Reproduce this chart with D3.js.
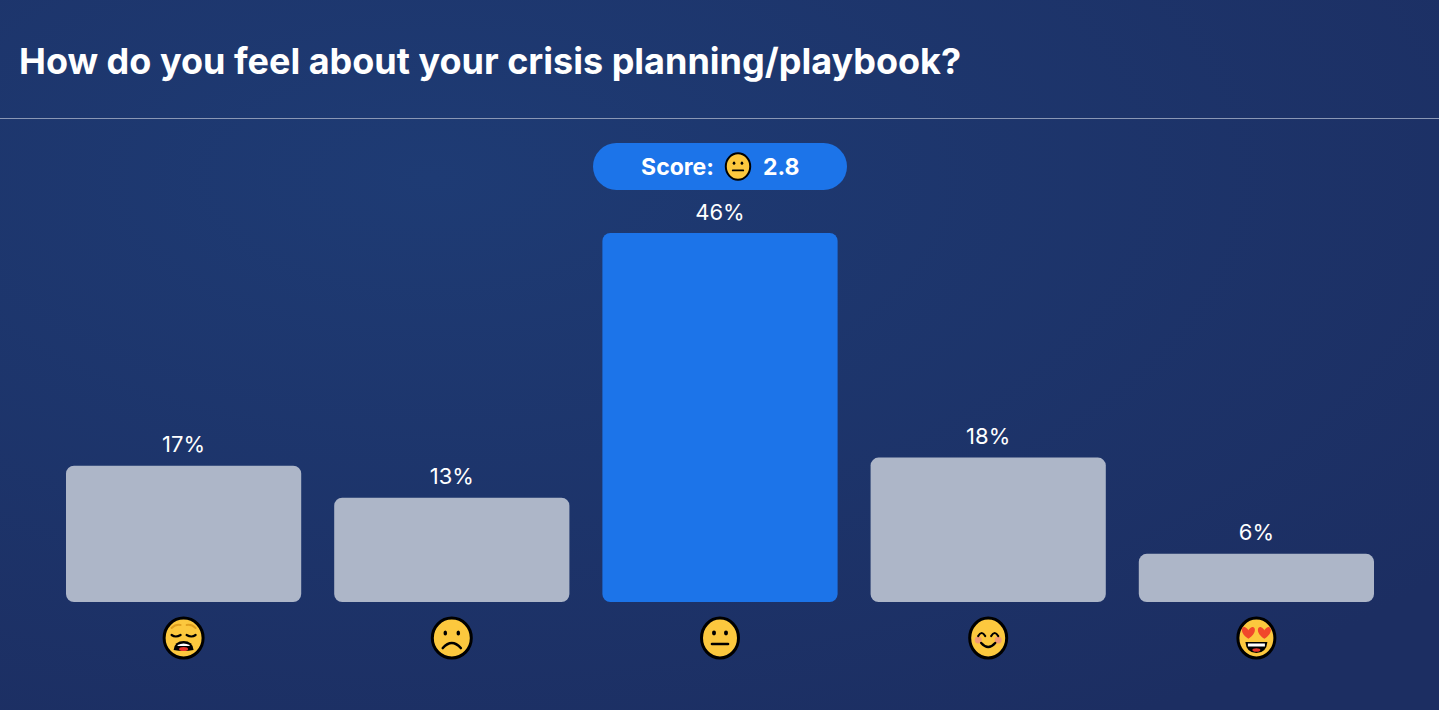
<!DOCTYPE html>
<html lang="en">
<head>
    <meta charset="UTF-8">
    <title>Crisis planning</title>
    <style>
        html, body {
            margin: 0;
            padding: 0;
            overflow: hidden;
        }
        svg {
            display: block;
            font-family: Inter, "Noto Sans", sans-serif;
        }
    </style>
</head>
<body>
    <svg width="1439" height="710" id="chart"></svg>

    <script src="https://d3js.org/d3.v7.min.js"></script>
    <script>
        // data
        const question = "How do you feel about your crisis planning/playbook?";
        const answerEmojis = ["😩", "☹️", "😐", "😊", "😍"];
        const answerKinds = ["weary", "frowning", "neutral", "smiling", "heartEyes"];
        const answerShares = [17, 13, 46, 18, 6];
        const scoreValue = 2.8;
        const scoreKind = "neutral";

        const width = 1439, height = 710;
        const svg = d3.select("#chart");

        // background gradient
        const defs = svg.append("defs");
        const grad = defs.append("radialGradient")
            .attr("id", "bg")
            .attr("cx", "30%").attr("cy", "25%").attr("r", "90%");
        grad.append("stop").attr("offset", "0%").attr("stop-color", "#1e3b74");
        grad.append("stop").attr("offset", "100%").attr("stop-color", "#1c2e62");
        svg.append("rect")
            .attr("width", width).attr("height", height)
            .attr("fill", "url(#bg)");

        // title + rule
        svg.append("text")
            .attr("x", 19).attr("y", 74)
            .attr("fill", "#ffffff")
            .attr("font-size", 36)
            .attr("font-weight", 700)
            .text(question);
        svg.append("line")
            .attr("x1", 0).attr("x2", width)
            .attr("y1", 118.5).attr("y2", 118.5)
            .attr("stroke", "#8a97b5")
            .attr("stroke-width", 1);

        // scales
        const idx = d3.range(answerShares.length);
        const x = d3.scaleBand()
            .domain(idx)
            .range([66, 1374])
            .paddingInner(0.123)
            .paddingOuter(0);
        const y = d3.scaleLinear()
            .domain([0, 46])
            .range([602, 233]);

        const maxIdx = d3.maxIndex(answerShares);

        // bars
        svg.selectAll("rect.bar")
            .data(idx)
            .enter()
            .append("rect")
            .attr("class", "bar")
            .attr("x", i => x(i))
            .attr("y", i => y(answerShares[i]))
            .attr("width", x.bandwidth())
            .attr("height", i => y(0) - y(answerShares[i]))
            .attr("rx", 8)
            .attr("fill", i => i === maxIdx ? "#1c74e9" : "#adb6c8");

        // value labels
        svg.selectAll("text.val")
            .data(idx)
            .enter()
            .append("text")
            .attr("class", "val")
            .attr("x", i => x(i) + x.bandwidth() / 2)
            .attr("y", i => y(answerShares[i]) - 13.5)
            .attr("text-anchor", "middle")
            .attr("fill", "#ffffff")
            .attr("font-size", 22)
            .text(i => answerShares[i] + "%");

        // emoji drawn as shapes (no emoji font available)
        function heartPath(cx, cy, s) {
            return `M${cx},${cy + s * 0.9}
                C${cx - s * 1.4},${cy} ${cx - s * 1.1},${cy - s * 1.1} ${cx - s * 0.5},${cy - s * 0.9}
                C${cx - s * 0.2},${cy - s * 0.8} ${cx},${cy - s * 0.5} ${cx},${cy - s * 0.4}
                C${cx},${cy - s * 0.5} ${cx + s * 0.2},${cy - s * 0.8} ${cx + s * 0.5},${cy - s * 0.9}
                C${cx + s * 1.1},${cy - s * 1.1} ${cx + s * 1.4},${cy} ${cx},${cy + s * 0.9}Z`;
        }

        function drawEmoji(g, kind, char) {
            g.append("title").text(char);
            const round = kind === "weary" || kind === "frowning";
            g.append("ellipse")
                .attr("rx", round ? 19.5 : 18.5)
                .attr("ry", 20)
                .attr("fill", "#fcc83e")
                .attr("stroke", "#000")
                .attr("stroke-width", 3);
            const line = (d, w, col) => g.append("path").attr("d", d)
                .attr("fill", "none").attr("stroke", col || "#000")
                .attr("stroke-width", w).attr("stroke-linecap", "round");

            if (kind === "weary") {
                line("M-12,-10 Q-8,-14 -3,-13", 2, "#e0a020");
                line("M12,-10 Q8,-14 3,-13", 2, "#e0a020");
                line("M-12,-3 Q-8,0 -3,-3", 2.2);
                line("M12,-3 Q8,0 3,-3", 2.2);
                g.append("path")
                    .attr("d", "M-10,12 Q-9,3 0,3 Q9,3 10,12 Q0,14 -10,12Z")
                    .attr("fill", "#000");
                g.append("path")
                    .attr("d", "M-6,7 Q0,4 6,7 L6,8 L-6,8Z")
                    .attr("fill", "#fff");
                g.append("ellipse")
                    .attr("cx", 0).attr("cy", 11).attr("rx", 4.5).attr("ry", 2)
                    .attr("fill", "#e8322a");
            } else if (kind === "frowning") {
                g.append("ellipse").attr("cx", -6.5).attr("cy", -5).attr("rx", 1.8).attr("ry", 2.6).attr("fill", "#000");
                g.append("ellipse").attr("cx", 6.5).attr("cy", -5).attr("rx", 1.8).attr("ry", 2.6).attr("fill", "#000");
                line("M-9,10 Q0,0 9,10", 2.6);
            } else if (kind === "neutral") {
                g.append("ellipse").attr("cx", -6).attr("cy", -5).attr("rx", 2).attr("ry", 2.4).attr("fill", "#000");
                g.append("ellipse").attr("cx", 6).attr("cy", -5).attr("rx", 2).attr("ry", 2.4).attr("fill", "#000");
                line("M-8,6 L8,6", 2.6);
            } else if (kind === "smiling") {
                g.append("circle").attr("cx", -10).attr("cy", 2).attr("r", 3.5).attr("fill", "#f29a73");
                g.append("circle").attr("cx", 10).attr("cy", 2).attr("r", 3.5).attr("fill", "#f29a73");
                line("M-10,-2 Q-6.5,-8 -3,-2", 2.2);
                line("M10,-2 Q6.5,-8 3,-2", 2.2);
                line("M-7,5 Q0,13 7,5", 2.4);
            } else if (kind === "heartEyes") {
                g.append("path").attr("d", heartPath(-8, -5, 6.5)).attr("fill", "#f1472b");
                g.append("path").attr("d", heartPath(8, -5, 6.5)).attr("fill", "#f1472b");
                g.append("path")
                    .attr("d", "M-11,4 L11,4 Q10,15 0,15 Q-10,15 -11,4Z")
                    .attr("fill", "#000");
                g.append("rect").attr("x", -8.5).attr("y", 5.5).attr("width", 17).attr("height", 3)
                    .attr("fill", "#fff");
                g.append("ellipse").attr("cx", 0).attr("cy", 12).attr("rx", 4).attr("ry", 1.8)
                    .attr("fill", "#e8322a");
            }
        }

        idx.forEach(i => {
            const g = svg.append("g")
                .attr("transform", `translate(${x(i) + x.bandwidth() / 2},638)`);
            drawEmoji(g, answerKinds[i], answerEmojis[i]);
        });

        // score pill above the winning bar
        const pillCx = x(maxIdx) + x.bandwidth() / 2;
        const pill = svg.append("g").attr("transform", `translate(${pillCx},166.5)`);
        pill.append("rect")
            .attr("x", -127).attr("y", -23.5)
            .attr("width", 254).attr("height", 47)
            .attr("rx", 23.5)
            .attr("fill", "#1c74e9");
        pill.append("text")
            .attr("x", -6).attr("y", 8.5)
            .attr("text-anchor", "end")
            .attr("fill", "#fff")
            .attr("font-size", 23)
            .attr("font-weight", 700)
            .text("Score:");
        const se = pill.append("g").attr("transform", "translate(18,0) scale(0.66)");
        drawEmoji(se, scoreKind, answerEmojis[answerKinds.indexOf(scoreKind)]);
        pill.append("text")
            .attr("x", 43).attr("y", 8.5)
            .attr("fill", "#fff")
            .attr("font-size", 23)
            .attr("font-weight", 700)
            .text(scoreValue.toFixed(1));
    </script>
</body>
</html>
